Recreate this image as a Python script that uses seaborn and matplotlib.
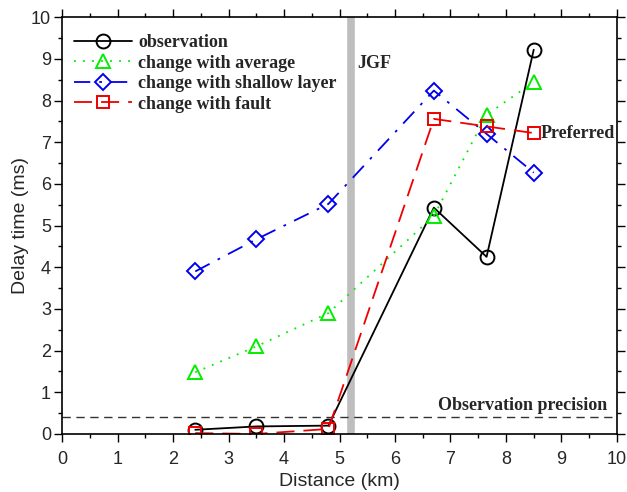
import matplotlib
matplotlib.use("Agg")
import matplotlib.pyplot as plt
import seaborn as sns
import pandas as pd

sns.set_theme(style="ticks")
plt.rcParams['font.family'] = ['Liberation Sans', 'DejaVu Sans']

distance = [2.4, 3.5, 4.8, 6.7, 7.65, 8.5]
observation = [0.1, 0.18, 0.2, 5.43, 4.25, 9.22]
change_average = [1.48, 2.1, 2.9, 5.23, 7.66, 8.44]
change_shallow = [3.9, 4.67, 5.52, 8.24, 7.2, 6.27]
change_fault = [0.02, 0.0, 0.12, 7.56, 7.38, 7.22]

precision = 0.4
jgf_x = 5.2

serif_bold = dict(family=['Liberation Serif', 'DejaVu Serif'], weight='bold')

fig = plt.figure(figsize=(6.27, 4.92), dpi=100)
ax = fig.add_axes([0.099, 0.118, 0.885, 0.847])

ax.axvline(jgf_x, color='#bebebe', lw=5.5, zorder=1)
ax.axhline(precision, color='#333333', lw=1.0, dashes=(6, 4), zorder=1)

series = [
    ("observation", observation, dict(color='black', marker='o', markersize=10, dashes=(None, None))),
    ("change with average", change_average, dict(color='#00ee00', marker='^', markersize=10, dashes=(1, 4))),
    ("change with shallow layer", change_shallow, dict(color='#0000ee', marker='D', markersize=8, dashes=(9, 5, 1.5, 5))),
    ("change with fault", change_fault, dict(color='#ee0000', marker='s', markersize=8, dashes=(10, 5))),
]

for name, vals, st in series:
    df = pd.DataFrame({"Distance": distance, "Delay": vals})
    dashes = st.pop('dashes')
    sns.lineplot(x="Distance", y="Delay", data=df, ax=ax, label=name, lw=1.3,
                 markerfacecolor='none', markeredgewidth=1.4,
                 markeredgecolor=st['color'], **st)
    ln = ax.lines[-1]
    if dashes[0] is not None:
        ln.set_dashes(dashes)

ax.set_xlim(0, 10)
ax.set_ylim(0, 10)
ax.set_xticks(range(0, 11))
ax.set_yticks(range(0, 11))
ax.set_xticks([i + 0.5 for i in range(10)], minor=True)
ax.set_yticks([i + 0.5 for i in range(10)], minor=True)
ax.tick_params(which='both', direction='out', top=True, right=True, labelsize=13, color='black', width=1)
ax.tick_params(which='major', length=6)
ax.tick_params(which='minor', length=3)
ax.tick_params(axis='x', which='major', pad=6)
ax.tick_params(axis='y', which='major', pad=2)
for s in ax.spines.values():
    s.set_color('black')
    s.set_linewidth(1.2)

ax.set_xlabel("Distance (km)", fontsize=14)
ax.set_ylabel("Delay time (ms)", fontsize=14, labelpad=1)

ax.text(5.32, 8.9, "JGF", fontsize=13, va='center', ha='left', **serif_bold)
ax.text(8.62, 7.22, "Preferred", fontsize=13, va='center', ha='left', **serif_bold)
ax.text(9.82, 0.47, "Observation precision", fontsize=13, va='bottom', ha='right', **serif_bold)

leg = ax.legend(loc='upper left', bbox_to_anchor=(0, 0.988), frameon=False, handlelength=3.2,
                prop=dict(family=['Liberation Serif', 'DejaVu Serif'], weight='bold', size=13),
                borderaxespad=0.25, labelspacing=0.2, handletextpad=0.35)

fig.savefig("out.png", dpi=100)
